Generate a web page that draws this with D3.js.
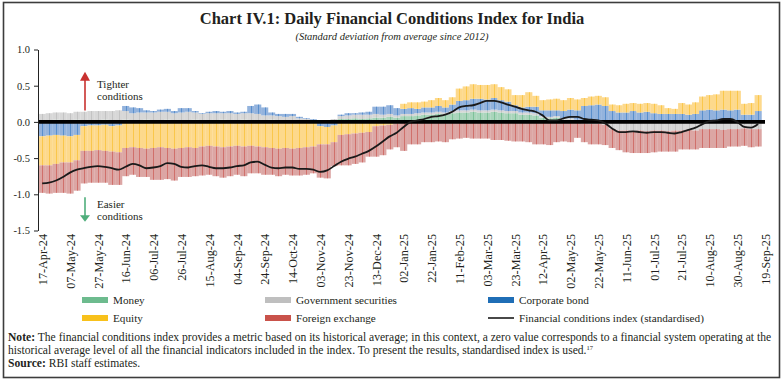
<!DOCTYPE html>
<html><head><meta charset="utf-8">
<script src="https://cdn.jsdelivr.net/npm/d3@7"></script>
<style>
html,body{margin:0;padding:0;background:#fff;}
svg{display:block;}
text{font-family:"Liberation Serif","DejaVu Serif",serif;fill:#231f20;}
</style></head><body>
<svg id="chart" width="784" height="382"></svg>
<script>
// ---- data ----
const startDate = "17-Apr-24";
const stepDays = 5;
const tickLabels = ["17-Apr-24","07-May-24","27-May-24","16-Jun-24","06-Jul-24","26-Jul-24","15-Aug-24","04-Sep-24","24-Sep-24","14-Oct-24","03-Nov-24","23-Nov-24","13-Dec-24","02-Jan-25","22-Jan-25","11-Feb-25","03-Mar-25","23-Mar-25","12-Apr-25","02-May-25","22-May-25","11-Jun-25","01-Jul-25","21-Jul-25","10-Aug-25","30-Aug-25","19-Sep-25"];
const yTicks = [1.0, 0.5, 0.0, -0.5, -1.0, -1.5];

const money = [0.02,0.02,0.03,0.02,0.02,0.03,0.02,0.02, 0.02,0.03,0.02,0.02,0.03,0.02,0.02,0.03,
 0.02,0.02,0.03,0.02,0.02,0.02,0.03,0.02, 0.02,0.02,0.03,0.02,0.02,0.03,0.02,0.02,
 0.02,0.03,0.02,0.02,0.02,0.01,0.01,0.01, 0.01,0.01,0.02,0.04,0.04,0.05,0.04,0.05,
 0.06,0.06,0.07,0.06,0.08,0.08,0.09,0.10, 0.10,0.11,0.10,0.12,0.13,0.13,0.14,0.13,
 0.13,0.14,0.13,0.12,0.12,0.10,0.10,0.09, 0.06,0.05,0.06,0.03,0.03,0.02,0.01,0.01,
 0.01,0.01,0.01,0.01,0.00,0.01,0.01,0.01, 0.01,0.01,0.00,0.01,0.01,0.01,0.01,0.01,
 0.01,0.01,0.01,0.01,0.01,0.01,0.01,0.01];
const govsec = [0.09,0.10,0.10,0.11,0.10,0.11,0.12,0.13, 0.13,0.12,0.13,0.14,0.12,0.10,0.11,0.10,
 0.11,0.12,0.11,0.10,0.11,0.12,0.10,0.09, 0.10,0.10,0.09,0.10,0.09,0.09,0.10,0.09,
 0.07,0.06,0.06,0.05,0.06,0.04,0.03,0.02, 0.01,0.01,0.02,0.04,0.05,0.05,0.06,0.05,
 0.05,0.04,0.04,0.03,0.03,0.03,0.03,0.03, 0.03,0.03,0.03,0.03,0.03,0.03,0.03,0.03,
 0.03,0.03,0.03,0.03,0.03,0.03,0.03,0.03, 0.02,0.02,0.02,0.02,0.02,0.01,-0.02,-0.03,
 -0.03,-0.04,-0.10,-0.12,-0.12,-0.13,-0.12,-0.13, -0.12,-0.12,-0.13,-0.12,-0.12,-0.11,-0.12,-0.10,
 -0.10,-0.10,-0.11,-0.10,-0.10,-0.09,-0.10,-0.10];
const corp = [-0.20,-0.19,-0.18,-0.19,-0.20,-0.18,-0.06,-0.05, -0.05,-0.04,-0.06,-0.05,0.07,0.08,0.06,0.03,
 0.02,0.03,0.04,0.03,0.06,0.05,0.02,0.01, 0.02,0.03,0.02,0.03,0.02,0.02,0.10,0.13,
 0.11,0.04,0.03,0.04,0.03,0.02,0.01,0.01, -0.06,-0.07,-0.05,0.02,0.03,0.02,0.03,0.04,
 0.10,0.11,0.12,0.10,0.07,0.08,0.06,0.07, 0.07,0.08,0.07,0.09,0.13,0.14,0.15,0.16,
 0.15,0.16,0.14,0.13,0.08,0.07,0.08,0.09, 0.08,0.09,0.08,0.10,0.12,0.13,0.21,0.22,
 0.23,0.21,0.14,0.12,0.13,0.14,0.12,0.13, 0.11,0.10,0.11,0.10,0.10,0.09,0.10,0.15,
 0.16,0.15,0.16,0.15,0.16,0.09,0.09,0.14];
const equity = [-0.40,-0.41,-0.40,-0.37,-0.36,-0.35,-0.34,-0.35, -0.34,-0.36,-0.35,-0.37,-0.36,-0.35,-0.36,-0.37,
 -0.36,-0.35,-0.36,-0.37,-0.36,-0.35,-0.36,-0.34, -0.33,-0.34,-0.35,-0.34,-0.33,-0.34,-0.33,-0.34,
 -0.35,-0.36,-0.37,-0.36,-0.37,-0.36,-0.35,-0.34, -0.25,-0.24,-0.23,-0.18,-0.17,-0.16,-0.15,-0.14,
 -0.06,-0.05,-0.04,-0.02,0.07,0.08,0.09,0.08, 0.10,0.11,0.10,0.10,0.17,0.19,0.20,0.19,
 0.20,0.19,0.18,0.17,0.14,0.17,0.20,0.15, 0.14,0.15,0.16,0.15,0.16,0.15,0.11,0.12,
 0.12,0.12,0.09,0.10,0.12,0.11,0.12,0.12, 0.13,0.12,0.08,0.07,0.15,0.14,0.16,0.19,
 0.20,0.22,0.26,0.27,0.26,0.15,0.16,0.22];
const forex = [-0.38,-0.39,-0.40,-0.42,-0.43,-0.42,-0.45,-0.44, -0.45,-0.44,-0.46,-0.45,-0.39,-0.38,-0.40,-0.39,
 -0.44,-0.45,-0.43,-0.44,-0.40,-0.41,-0.39,-0.40, -0.40,-0.41,-0.42,-0.41,-0.40,-0.41,-0.38,-0.37,
 -0.38,-0.37,-0.38,-0.37,-0.37,-0.38,-0.38,-0.37, -0.46,-0.47,-0.33,-0.42,-0.43,-0.42,-0.41,-0.34,
 -0.42,-0.41,-0.34,-0.33,-0.40,-0.31,-0.31,-0.28, -0.28,-0.27,-0.28,-0.24,-0.23,-0.22,-0.23,-0.23,
 -0.23,-0.25,-0.25,-0.26,-0.27,-0.27,-0.28,-0.31, -0.31,-0.32,-0.28,-0.27,-0.28,-0.22,-0.26,-0.28,
 -0.28,-0.28,-0.26,-0.27,-0.30,-0.30,-0.31,-0.30, -0.30,-0.29,-0.28,-0.29,-0.26,-0.27,-0.26,-0.26,
 -0.26,-0.26,-0.25,-0.24,-0.24,-0.24,-0.25,-0.24];
const fci = [-0.85,-0.84,-0.81,-0.76,-0.70,-0.66,-0.64,-0.62, -0.61,-0.62,-0.64,-0.66,-0.62,-0.58,-0.60,-0.64,
 -0.63,-0.61,-0.57,-0.58,-0.62,-0.63,-0.61,-0.60, -0.62,-0.64,-0.64,-0.63,-0.61,-0.60,-0.56,-0.55,
 -0.59,-0.63,-0.64,-0.63,-0.63,-0.65,-0.65,-0.66, -0.69,-0.67,-0.61,-0.55,-0.51,-0.48,-0.44,-0.40,
 -0.34,-0.27,-0.20,-0.15,-0.07,0.00,0.02,0.04, 0.07,0.08,0.10,0.14,0.20,0.22,0.23,0.26,
 0.29,0.29,0.27,0.24,0.21,0.18,0.16,0.14, 0.09,0.02,0.02,0.05,0.07,0.07,0.04,0.03,
 0.02,-0.02,-0.09,-0.14,-0.14,-0.13,-0.14,-0.15, -0.14,-0.14,-0.15,-0.16,-0.14,-0.11,-0.08,-0.03,
 0.01,0.02,0.04,0.04,0.00,-0.07,-0.08,-0.03];

const seriesKeys = ["money","govsec","corp","equity","forex"];
const seriesNames = ["Money","Government securities","Corporate bond","Equity","Foreign exchange"];
const lineName = "Financial conditions index (standardised)";

// ---- styles ----
const paleColor = {money:"#a9d5bb", govsec:"#d7d7d7", corp:"#93b3dd", equity:"#fdd98c", forex:"#dca6a4"};
const darkColor = {money:"#5cb27f", govsec:"#b3b3b3", corp:"#2d72bf", equity:"#f8b916", forex:"#c8443e"};
const legendColor = {money:"#6dbb8e", govsec:"#bfbfbf", corp:"#1f6eb6", equity:"#f8c11b", forex:"#c9524a"};

const svg = d3.select("#chart");
const parse = d3.timeParse("%d-%b-%y");
const fmt = d3.timeFormat("%d-%b-%y");
const t0 = parse(startDate);
const dates = fci.map((_, i) => d3.timeDay.offset(t0, i * stepDays));
const rows = dates.map((d, i) => ({date: d, money: money[i], govsec: govsec[i], corp: corp[i], equity: equity[i], forex: forex[i], fci: fci[i]}));

const x = d3.scaleTime()
  .domain([d3.timeDay.offset(t0, -3), parse(tickLabels[tickLabels.length - 1])])
  .range([38, 765]);
const y = d3.scaleLinear().domain([-1.5, 1.0]).range([230.5, 49.5]);

// frame
svg.append("rect").attr("x", 3.5).attr("y", 2.5).attr("width", 776).attr("height", 375)
  .attr("fill", "none").attr("stroke", "#3d3d3d").attr("stroke-width", 1.6);

// titles
svg.append("text").attr("x", 392).attr("y", 24).attr("text-anchor", "middle")
  .style("font-size", "16.5px").style("font-weight", "bold").text("Chart IV.1: Daily Financial Conditions Index for India");
svg.append("text").attr("x", 392).attr("y", 40).attr("text-anchor", "middle")
  .style("font-size", "10.5px").style("font-style", "italic").text("(Standard deviation from average since 2012)");

// annotations (arrows)
const ann = svg.append("g");
ann.append("line").attr("x1", 85).attr("x2", 85).attr("y1", y(-0.05) - 15).attr("y2", y(0.65) + 4)
  .attr("stroke", "#c8312f").attr("stroke-width", 1.6);
ann.append("path").attr("d", `M80,${y(0.65)+6} L85,${y(0.65)-3} L90,${y(0.65)+6} Z`).attr("fill", "#c8312f");
ann.append("text").attr("x", 97).attr("y", 88).style("font-size", "11px").text("Tighter");
ann.append("text").attr("x", 97).attr("y", 100).style("font-size", "11px").text("conditions");
ann.append("line").attr("x1", 85).attr("x2", 85).attr("y1", y(-1.04)).attr("y2", y(-1.32))
  .attr("stroke", "#4fae7b").attr("stroke-width", 1.6);
ann.append("path").attr("d", `M80,${y(-1.29)} L85,${y(-1.38)} L90,${y(-1.29)} Z`).attr("fill", "#4fae7b");
ann.append("text").attr("x", 97).attr("y", 208).style("font-size", "11px").text("Easier");
ann.append("text").attr("x", 97).attr("y", 220).style("font-size", "11px").text("conditions");

// stacked bars
const stack = d3.stack().keys(seriesKeys).offset(d3.stackOffsetDiverging);
const layers = stack(rows);
const bw = x(d3.timeDay.offset(t0, stepDays)) - x(t0);
const gBars = svg.append("g");
layers.forEach(layer => {
  const k = layer.key;
  const g = gBars.append("g");
  g.selectAll("rect").data(layer).join("rect")
    .attr("x", d => x(d.data.date) - bw / 2)
    .attr("width", bw + 0.2)
    .attr("y", d => y(Math.max(d[0], d[1])))
    .attr("height", d => Math.abs(y(d[0]) - y(d[1])))
    .attr("fill", paleColor[k]);
  g.selectAll("line").data(layer.filter(d => Math.abs(d[1] - d[0]) > 0.001)).join("line")
    .attr("x1", d => Math.round(x(d.data.date)) + 0.5).attr("x2", d => Math.round(x(d.data.date)) + 0.5)
    .attr("y1", d => y(Math.max(d[0], d[1]))).attr("y2", d => y(Math.min(d[0], d[1])))
    .attr("stroke", darkColor[k]).attr("stroke-width", 1).attr("opacity", 0.55);
});

// zero line
svg.append("line").attr("x1", 38).attr("x2", 765).attr("y1", y(0)).attr("y2", y(0))
  .attr("stroke", "#000").attr("stroke-width", 3.6);

// FCI line
svg.append("path").datum(rows)
  .attr("fill", "none").attr("stroke", "#1a1a1a").attr("stroke-width", 1.8)
  .attr("d", d3.line().x(d => x(d.date)).y(d => y(d.fci)).curve(d3.curveMonotoneX));

// y axis
const gy = svg.append("g").attr("transform", "translate(38,0)")
  .call(d3.axisLeft(y).tickValues(yTicks).tickFormat(d => d.toFixed(1)).tickSize(4).tickSizeOuter(0).tickPadding(4));
gy.attr("font-family", null).attr("font-size", null);
gy.selectAll("text").style("font-size", "10.5px");
gy.selectAll("line,path").attr("stroke", "#222");

// x axis labels
const tickDates = tickLabels.map(parse);
const gx = svg.append("g").attr("transform", "translate(0,230)")
  .call(d3.axisBottom(x).tickValues(tickDates).tickFormat(fmt).tickSize(0));
gx.attr("font-family", null).attr("font-size", null);
gx.select(".domain").remove();
gx.selectAll("text").attr("transform", "rotate(-90)").attr("text-anchor", "end")
  .attr("x", -4).attr("y", 0).attr("dy", "0.35em").style("font-size", "12.2px");

// legend
const legPos = [[82, 300], [265, 300], [488, 300], [82, 318], [265, 318]];
const gl = svg.append("g");
seriesKeys.forEach((k, i) => {
  const [lx, ly] = legPos[i];
  gl.append("rect").attr("x", lx).attr("y", ly - 3).attr("width", 26).attr("height", 6).attr("fill", legendColor[k]);
  gl.append("text").attr("x", lx + 31).attr("y", ly + 4).style("font-size", "11.2px").text(seriesNames[i]);
});
gl.append("line").attr("x1", 488).attr("x2", 514).attr("y1", 318).attr("y2", 318).attr("stroke", "#1a1a1a").attr("stroke-width", 1.6);
gl.append("text").attr("x", 519).attr("y", 322).style("font-size", "11.2px").text(lineName);

// notes
const n1 = svg.append("text").attr("x", 8).attr("y", 341).style("font-size", "11.6px");
n1.append("tspan").style("font-weight", "bold").text("Note:");
n1.append("tspan").text(" The financial conditions index provides a metric based on its historical average; in this context, a zero value corresponds to a financial system operating at the");
const n2 = svg.append("text").attr("x", 8).attr("y", 354).style("font-size", "11.6px");
n2.append("tspan").text("historical average level of all the financial indicators included in the index. To present the results, standardised index is used.");
n2.append("tspan").attr("dy", -4).style("font-size", "6.5px").text("17");
const n3 = svg.append("text").attr("x", 8).attr("y", 367).style("font-size", "11.6px");
n3.append("tspan").style("font-weight", "bold").text("Source:");
n3.append("tspan").text("  RBI staff estimates.");
</script>
</body></html>
